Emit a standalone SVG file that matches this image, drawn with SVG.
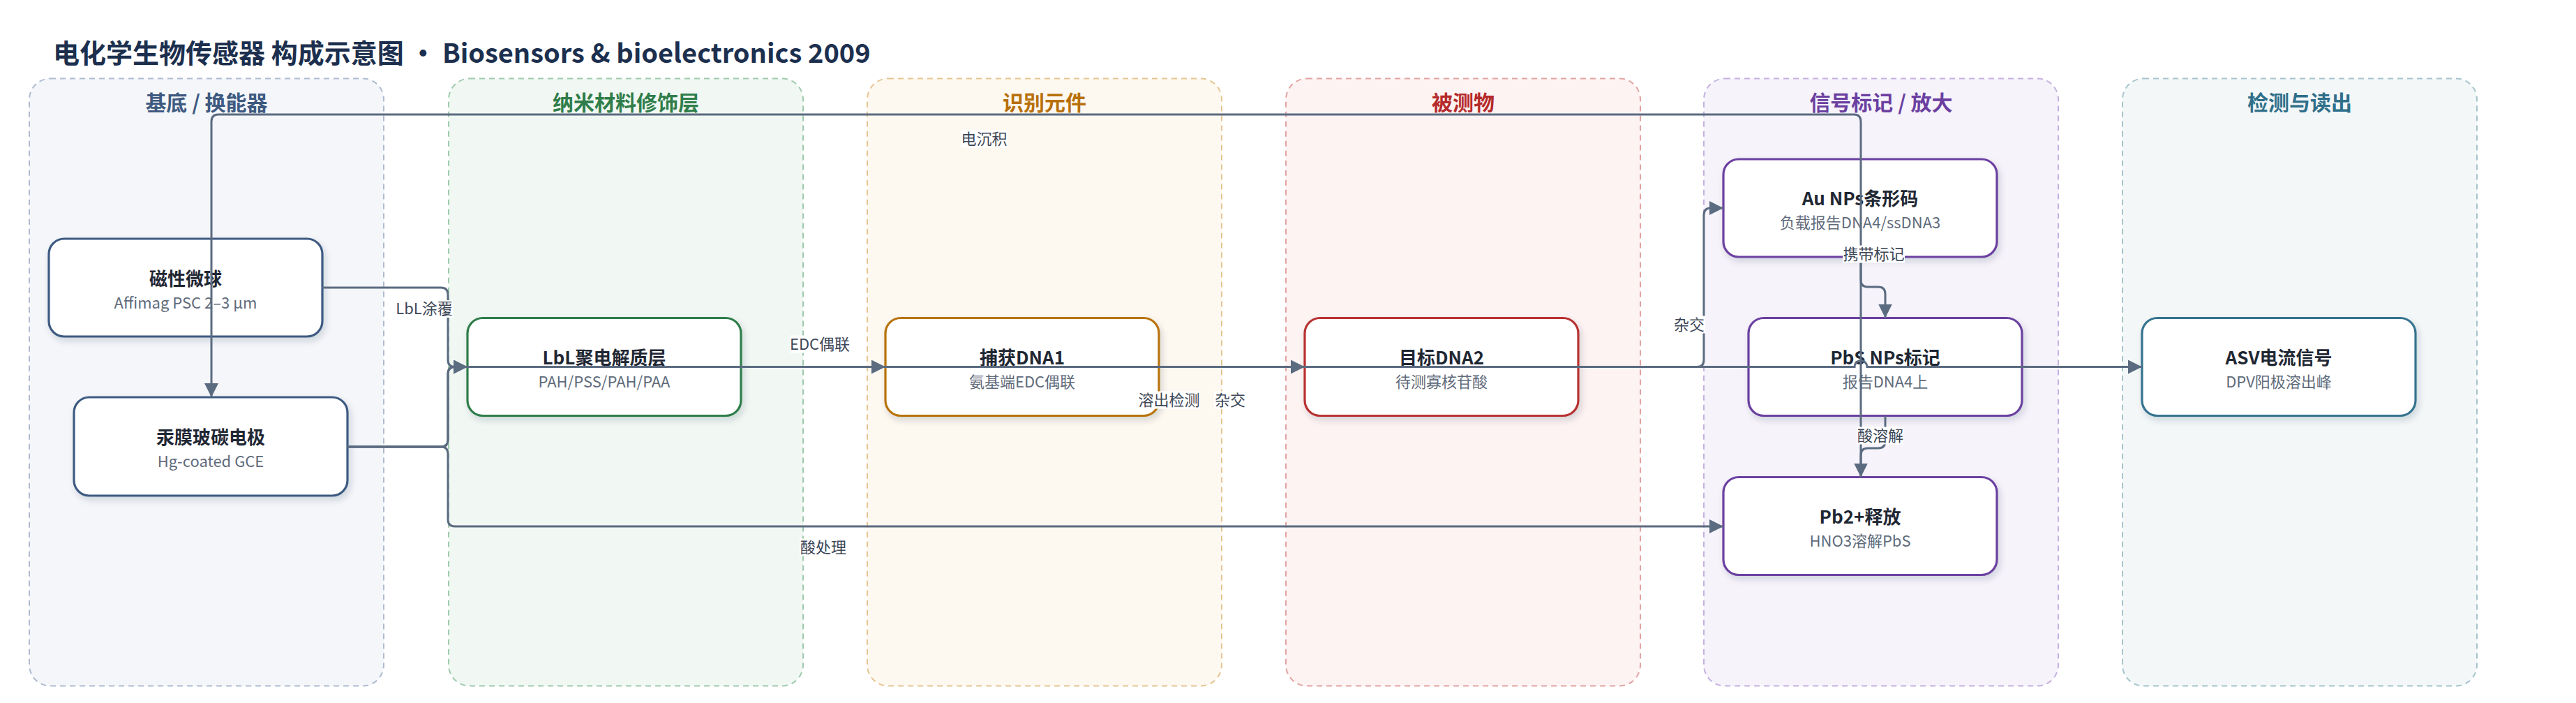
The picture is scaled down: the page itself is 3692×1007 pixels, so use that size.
<svg xmlns="http://www.w3.org/2000/svg" width="3692" height="1007" viewBox="0 0 3692 1007">
<defs>
<style>
text{font-family:"Noto Sans CJK SC","Noto Sans",sans-serif;}
.title{font-size:38px;font-weight:700;fill:#1c2f4e;}
.ptitle{font-size:30px;font-weight:700;text-anchor:middle;}
.panel{stroke-width:2;stroke-dasharray:8 6;}
.node{fill:#fff;stroke-width:3.2;filter:url(#sh);}
.nt{font-size:26px;font-weight:700;fill:#1f2733;text-anchor:middle;}
.ns{font-size:22px;fill:#5f6b7b;text-anchor:middle;}
.edge{fill:none;stroke:#5b6b80;stroke-width:3;}
.lbg{fill:#fff;}
.lbl{font-size:22px;fill:#3d4757;text-anchor:middle;}
</style>
<filter id="sh" x="-10%" y="-20%" width="125%" height="150%">
<feDropShadow dx="3" dy="5" stdDeviation="5" flood-color="#1e2a3a" flood-opacity="0.16"/>
</filter>
<marker id="arr" viewBox="0 0 20 20" markerWidth="20" markerHeight="20" refX="20" refY="10" orient="auto" markerUnits="userSpaceOnUse">
<path d="M0,0 L20,10 L0,20 z" fill="#5b6b80"/>
</marker>
</defs>
<rect width="3692" height="1007" fill="#fff"/>
<text class="title" x="76" y="90">电化学生物传感器 构成示意图 · Biosensors &amp; bioelectronics 2009</text>

<g id="panels">
<g id="panel-substrate">
<rect class="panel" x="42" y="112.5" width="508" height="870" rx="30" fill="#f4f6fa" stroke="#aebbd0"/>
<text class="ptitle" x="296" y="158" fill="#3e5a80">基底 / 换能器</text>
</g>
<g id="panel-nano">
<rect class="panel" x="643" y="112.5" width="508" height="870" rx="30" fill="#f1f8f3" stroke="#9fcaad"/>
<text class="ptitle" x="897" y="158" fill="#2f7d4a">纳米材料修饰层</text>
</g>
<g id="panel-recog">
<rect class="panel" x="1243" y="112.5" width="508" height="870" rx="30" fill="#fdf8f0" stroke="#e6c591"/>
<text class="ptitle" x="1497" y="158" fill="#b8700a">识别元件</text>
</g>
<g id="panel-analyte">
<rect class="panel" x="1843" y="112.5" width="508" height="870" rx="30" fill="#fdf3f2" stroke="#e3a3a3"/>
<text class="ptitle" x="2097" y="158" fill="#b52a2a">被测物</text>
</g>
<g id="panel-label">
<rect class="panel" x="2442" y="112.5" width="508" height="870" rx="30" fill="#f6f3fb" stroke="#c5b0e0"/>
<text class="ptitle" x="2696" y="158" fill="#6b3fa0">信号标记 / 放大</text>
</g>
<g id="panel-readout">
<rect class="panel" x="3042" y="112.5" width="508" height="870" rx="30" fill="#f3f7f8" stroke="#a6c4cc"/>
<text class="ptitle" x="3296" y="158" fill="#2f6f8a">检测与读出</text>
</g>
</g>

<g id="n-beads">
<rect class="node" x="70" y="342" width="392" height="140" rx="22" stroke="#3e5a82"/>
<text class="nt" x="266" y="408.5">磁性微球</text>
<text class="ns" x="266" y="441.5">Affimag PSC 2–3 μm</text>
</g>
<g id="n-gce">
<rect class="node" x="106" y="569" width="392" height="141" rx="22" stroke="#3e5a82"/>
<text class="nt" x="302" y="636">汞膜玻碳电极</text>
<text class="ns" x="302" y="669">Hg-coated GCE</text>
</g>
<g id="n-lbl">
<rect class="node" x="670" y="455.5" width="392" height="140" rx="22" stroke="#2f7d4a"/>
<text class="nt" x="866" y="522">LbL聚电解质层</text>
<text class="ns" x="866" y="555">PAH/PSS/PAH/PAA</text>
</g>
<g id="n-capture">
<rect class="node" x="1269" y="455.5" width="392" height="140" rx="22" stroke="#b8730a"/>
<text class="nt" x="1465" y="522">捕获DNA1</text>
<text class="ns" x="1465" y="555">氨基端EDC偶联</text>
</g>
<g id="n-target">
<rect class="node" x="1870" y="455.5" width="392" height="140" rx="22" stroke="#b83030"/>
<text class="nt" x="2066" y="522">目标DNA2</text>
<text class="ns" x="2066" y="555">待测寡核苷酸</text>
</g>
<g id="n-au">
<rect class="node" x="2470" y="228" width="392" height="140" rx="22" stroke="#6b3fa0"/>
<text class="nt" x="2666" y="294">Au NPs条形码</text>
<text class="ns" x="2666" y="327">负载报告DNA4/ssDNA3</text>
</g>
<g id="n-pbs">
<rect class="node" x="2506" y="455.5" width="392" height="140" rx="22" stroke="#6b3fa0"/>
<text class="nt" x="2702" y="522">PbS NPs标记</text>
<text class="ns" x="2702" y="555">报告DNA4上</text>
</g>
<g id="n-pb">
<rect class="node" x="2470" y="683.5" width="392" height="140" rx="22" stroke="#6b3fa0"/>
<text class="nt" x="2666" y="750">Pb2+释放</text>
<text class="ns" x="2666" y="783">HNO3溶解PbS</text>
</g>
<g id="n-asv">
<rect class="node" x="3070" y="455.5" width="392" height="140" rx="22" stroke="#35738f"/>
<text class="nt" x="3266" y="522">ASV电流信号</text>
<text class="ns" x="3266" y="555">DPV阳极溶出峰</text>
</g>

<g id="connectors">
<path class="edge" marker-end="url(#arr)" d="M462,412 H632 Q642,412 642,422 V515.5 Q642,525.5 652,525.5 H670"/>
<path class="edge" marker-end="url(#arr)" d="M498,640 H632 Q642,640 642,630 V535.5 Q642,525.5 652,525.5 H670"/>
<path class="edge" marker-end="url(#arr)" d="M498,640 H632 Q642,640 642,650 V744 Q642,754 652,754 H2470"/>
<path class="edge" marker-end="url(#arr)" d="M498,640 H632 Q642,640 642,630 V535.5 Q642,525.5 652,525.5 H2658 A9,9 0 0 1 2676,525.5 H3070"/>
<path class="edge" marker-end="url(#arr)" d="M1062,525.5 H1269"/>
<path class="edge" marker-end="url(#arr)" d="M1661,525.5 H1870"/>
<path class="edge" marker-end="url(#arr)" d="M2262,525.5 H2432 Q2442,525.5 2442,515.5 V308 Q2442,298 2452,298 H2470"/>
<path class="edge" marker-end="url(#arr)" d="M2667,368 V401 Q2667,411 2677,411 H2692 Q2702,411 2702,421 V455.5"/>
<path class="edge" marker-end="url(#arr)" d="M2702,595.5 V632 Q2702,642 2692,642 H2677 Q2667,642 2667,652 V683.5"/>
<path class="edge" marker-end="url(#arr)" d="M2667,683.5 V174 Q2667,164 2657,164 H313 Q303,164 303,174 V569"/>
<g id="edge-labels">
<rect class="lbg" x="567" y="430" width="82" height="25"/><text class="lbl" x="608" y="450">LbL涂覆</text>
<rect class="lbg" x="1132" y="480.5" width="86" height="25"/><text class="lbl" x="1175" y="501">EDC偶联</text>
<rect class="lbg" x="1377" y="186.5" width="67" height="25"/><text class="lbl" x="1410.5" y="207">电沉积</text>
<rect class="lbg" x="1631" y="560.5" width="89" height="25"/><text class="lbl" x="1675.5" y="581">溶出检测</text>
<rect class="lbg" x="1740" y="560.5" width="46" height="25"/><text class="lbl" x="1763" y="581">杂交</text>
<rect class="lbg" x="2398" y="452.5" width="46" height="25"/><text class="lbl" x="2421" y="473">杂交</text>
<rect class="lbg" x="2641" y="351.5" width="89" height="25"/><text class="lbl" x="2685.5" y="372">携带标记</text>
<rect class="lbg" x="2661" y="611.5" width="67" height="25"/><text class="lbl" x="2695" y="632">酸溶解</text>
<rect class="lbg" x="1146" y="771.5" width="67" height="25"/><text class="lbl" x="1180" y="792">酸处理</text>
</g>
</g>
</svg>
